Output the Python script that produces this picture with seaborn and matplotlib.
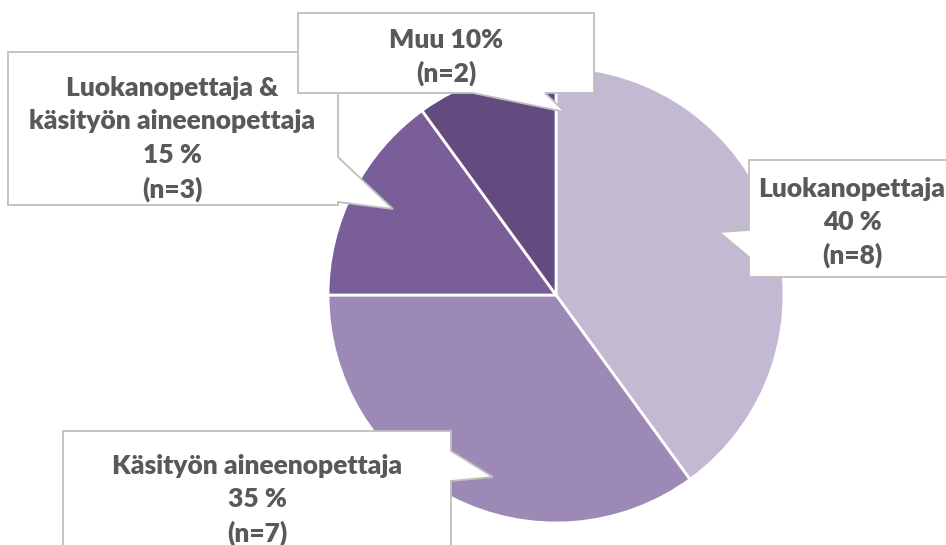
import matplotlib
matplotlib.use("Agg")
import matplotlib.pyplot as plt
from matplotlib.patches import Polygon
import seaborn as sns

categories = ["Luokanopettaja", "Käsityön aineenopettaja",
              "Luokanopettaja & käsityön aineenopettaja", "Muu"]
percents = [40, 35, 15, 10]
counts = [8, 7, 3, 2]
label_lines = [
    ["Luokanopettaja", "40 %", "(n=8)"],
    ["Käsityön aineenopettaja", "35 %", "(n=7)"],
    ["Luokanopettaja &", "käsityön aineenopettaja", "15 %", "(n=3)"],
    ["Muu 10%", "(n=2)"],
]
colors = ["#C3B9D3", "#9D89B5", "#7A5E9A", "#634B80"]

sns.set_theme(style="white")
plt.rcParams['font.family'] = ['Lato', 'DejaVu Sans']
palette = sns.color_palette(colors)

fig = plt.figure(figsize=(9.46, 5.45), dpi=100)
ax = fig.add_axes([0, 0, 1, 1])

ax.pie(percents, colors=palette, center=(556, 295), radius=228,
       startangle=270, counterclock=True,
       wedgeprops=dict(edgecolor="white", linewidth=2.0))
ax.set_xlim(0, 946)
ax.set_ylim(545, 0)
ax.set_aspect("equal")
ax.axis("off")

# callout shapes (layout, pixel coords)
callouts = [
    [(749, 160), (960, 160), (960, 277), (749, 277), (749, 257), (719, 232), (749, 230)],
    [(63, 431), (451, 431), (451, 451), (493, 477), (451, 481), (451, 560), (63, 560)],
    [(8, 52), (338, 52), (338, 157), (393, 209), (338, 202), (338, 205), (8, 205)],
    [(298, 13), (594, 13), (594, 93), (545, 93), (565, 112), (473, 93), (298, 93)],
]
text_pos = [
    (852, [189, 222, 255]),
    (257, [466, 499, 533]),
    (172, [88, 121, 155, 189]),
    (446, [40, 73]),
]
for poly, (cx, ys), lines in zip(callouts, text_pos, label_lines):
    ax.add_patch(Polygon(poly, closed=True, facecolor="white",
                         edgecolor="#BFBFBF", linewidth=1.3, zorder=5))
    for y, t in zip(ys, lines):
        ax.text(cx, y, t, ha="center", va="center", fontsize=19,
                fontweight="heavy", color="#595959", zorder=6)

fig.savefig("out.png", dpi=100)
